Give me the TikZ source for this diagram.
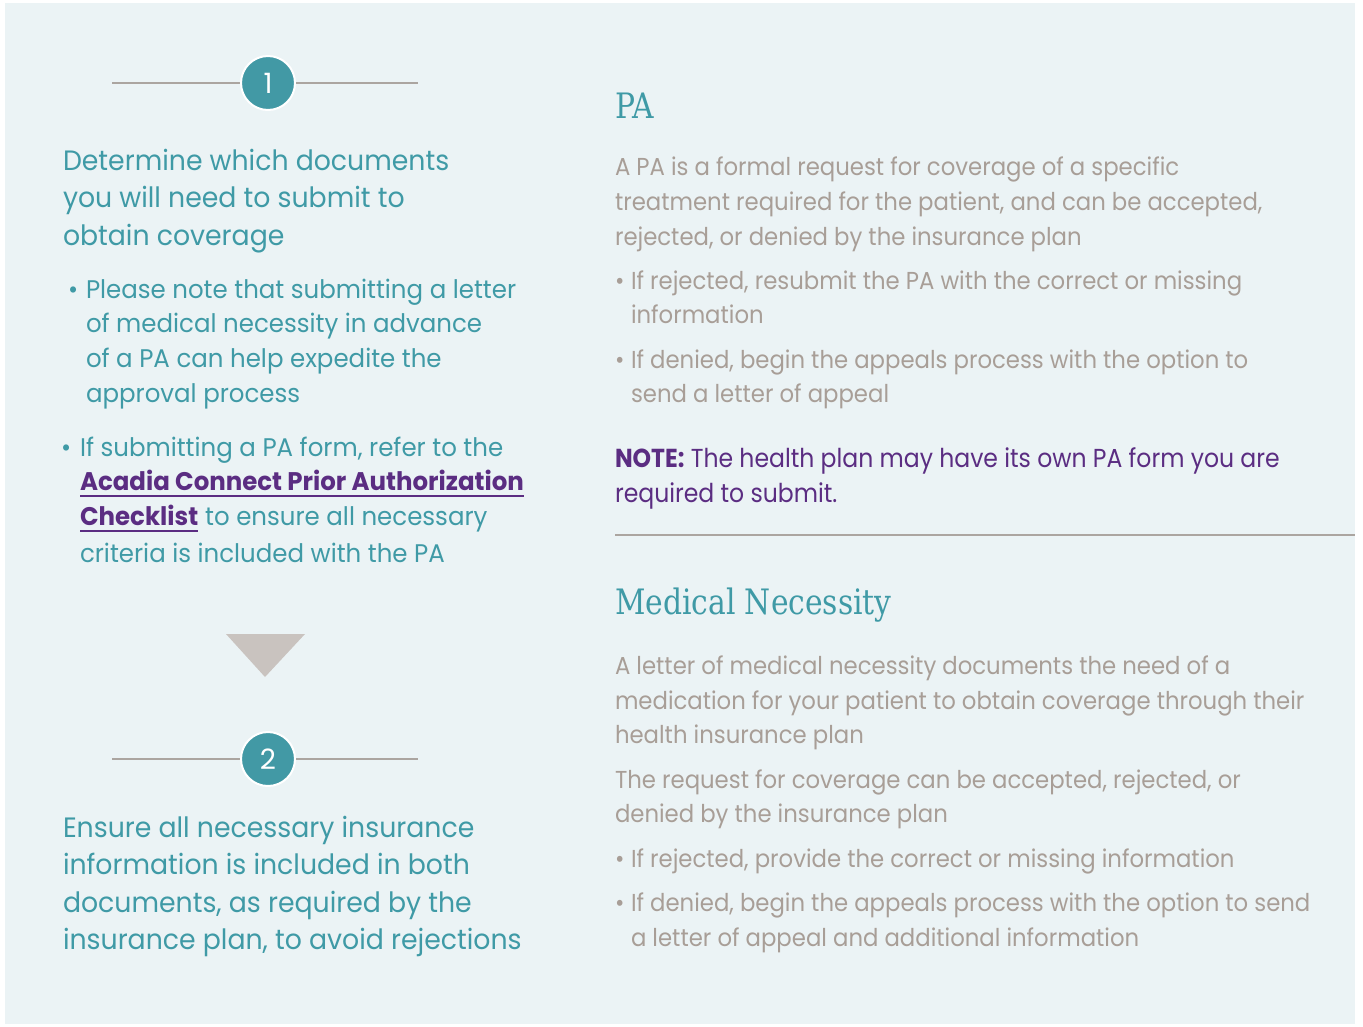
\documentclass[tikz,border=0pt]{standalone}
\usepackage{fontspec}
\setmainfont{Poppins}
\newfontfamily\headf[FakeStretch=0.955]{Poppins}
\newfontfamily\bulf[FakeStretch=0.96]{Poppins}
\newfontfamily\bodyf[FakeStretch=0.93]{Poppins}
\newfontfamily\notef[FakeStretch=0.905]{Poppins}
\newfontfamily\slab[FakeStretch=0.85]{DejaVu Serif}
\definecolor{bgpanel}{HTML}{EBF3F5}
\definecolor{teal}{HTML}{3F9AA6}
\definecolor{circ}{HTML}{4299A5}
\definecolor{graytxt}{HTML}{A89E97}
\definecolor{purp}{HTML}{5B2D82}
\definecolor{tri}{HTML}{C9C3BF}
\definecolor{rule}{HTML}{ABA5A0}
\tikzset{
  base/.style={inner sep=0pt, outer sep=0pt, anchor=base west},
  lhead/.style={base, text=teal, font=\headf\fontsize{28}{34}\selectfont},
  lbul/.style={base, text=teal, font=\bulf\fontsize{25.5}{30}\selectfont},
  lbold/.style={base, text=purp, font=\bulf\bfseries\fontsize{25.5}{30}\selectfont},
  rhead/.style={base, text=teal, font=\slab\fontsize{35}{40}\selectfont},
  rbody/.style={base, text=graytxt, font=\bodyf\fontsize{24.5}{30}\selectfont},
  rnote/.style={base, text=purp, font=\notef\fontsize{26}{30}\selectfont},
  stepcirc/.style={circle, fill=circ, draw=white, line width=2pt, minimum size=54pt, inner sep=0pt, text=white, font=\fontsize{28}{30}\selectfont},
  rulel/.style={draw=rule, line width=1.4pt},
}
\begin{document}
\begin{tikzpicture}[x=1pt,y=-1pt]
\useasboundingbox (0,0) rectangle (1363,1026);
\fill[white] (0,0) rectangle (1363,1026);
\fill[bgpanel] (5,3) rectangle (1355,1024);

% step 1
\coordinate (l1a) at (112,83);
\coordinate (l1b) at (418,83);
\draw[rulel] (l1a) -- (l1b);
\node[stepcirc] (c1) at (268,83) {1};

\node[lhead] (h1) at (63,170) {Determine which documents};
\node[lhead] (h2) at (63,207.5) {you will need to submit to};
\node[lhead] (h3) at (63,245) {obtain coverage};

\node[lbul] (b1) at (68,298) {•};
\node[lbul] (b1a) at (86,298) {Please note that submitting a letter};
\node[lbul] (b1b) at (86,332) {of medical necessity in advance};
\node[lbul] (b1c) at (86,367) {of a PA can help expedite the};
\node[lbul] (b1d) at (86,402) {approval process};

\node[lbul] (b2) at (61,456) {•};
\node[lbul] (b2a) at (80,456) {If submitting a PA form, refer to the};
\node[lbold] (lk1) at (80,490) {Acadia Connect Prior Authorization};
\node[lbold] (lk2) at (80,525) {Checklist};
\node[lbul, anchor=base west] (b2c) at ([xshift=7pt]lk2.base east) {to ensure all necessary};
\node[lbul] (b2d) at (80,562) {criteria is included with the PA};
\draw[purp, line width=2pt] ([yshift=-6pt]lk1.base west) -- ([yshift=-6pt]lk1.base east);
\draw[purp, line width=2pt] ([yshift=-6pt]lk2.base west) -- ([yshift=-6pt]lk2.base east);

% arrow triangle
\fill[tri] (226,634) -- (305,634) -- (265,677) -- cycle;

% step 2
\coordinate (l2a) at (112,759);
\coordinate (l2b) at (418,759);
\draw[rulel] (l2a) -- (l2b);
\node[stepcirc] (c2) at (268,759) {2};

\node[lhead] (g1) at (63,837) {Ensure all necessary insurance};
\node[lhead] (g2) at (63,874) {information is included in both};
\node[lhead] (g3) at (63,912) {documents, as required by the};
\node[lhead] (g4) at (63,949) {insurance plan, to avoid rejections};

% right column: PA
\node[rhead] (pa) at (615,118) {PA};
\node[rbody] (p1) at (615,175) {A PA is a formal request for coverage of a specific};
\node[rbody] (p2) at (615,210) {treatment required for the patient, and can be accepted,};
\node[rbody] (p3) at (615,245) {rejected, or denied by the insurance plan};
\node[rbody] (pb1) at (615,289) {•};
\node[rbody] (p4) at (631,289) {If rejected, resubmit the PA with the correct or missing};
\node[rbody] (p5) at (631,323) {information};
\node[rbody] (pb2) at (615,368) {•};
\node[rbody] (p6) at (631,368) {If denied, begin the appeals process with the option to};
\node[rbody] (p7) at (631,402) {send a letter of appeal};

\node[rnote] (n1) at (615,467) {\textbf{NOTE:} The health plan may have its own PA form you are};
\node[rnote] (n2) at (615,502) {required to submit.};

\coordinate (sepa) at (615,535);
\coordinate (sepb) at (1355,535);
\draw[rulel] (sepa) -- (sepb);

% right column: Medical Necessity
\node[rhead] (mn) at (615,614) {Medical Necessity};
\node[rbody] (m1) at (615,674) {A letter of medical necessity documents the need of a};
\node[rbody] (m2) at (615,709) {medication for your patient to obtain coverage through their};
\node[rbody] (m3) at (615,743) {health insurance plan};
\node[rbody] (m4) at (615,788) {The request for coverage can be accepted, rejected, or};
\node[rbody] (m5) at (615,822) {denied by the insurance plan};
\node[rbody] (mb1) at (615,867) {•};
\node[rbody] (m6) at (631,867) {If rejected, provide the correct or missing information};
\node[rbody] (mb2) at (615,911) {•};
\node[rbody] (m7) at (631,911) {If denied, begin the appeals process with the option to send};
\node[rbody] (m8) at (631,946) {a letter of appeal and additional information};
\end{tikzpicture}
\end{document}
